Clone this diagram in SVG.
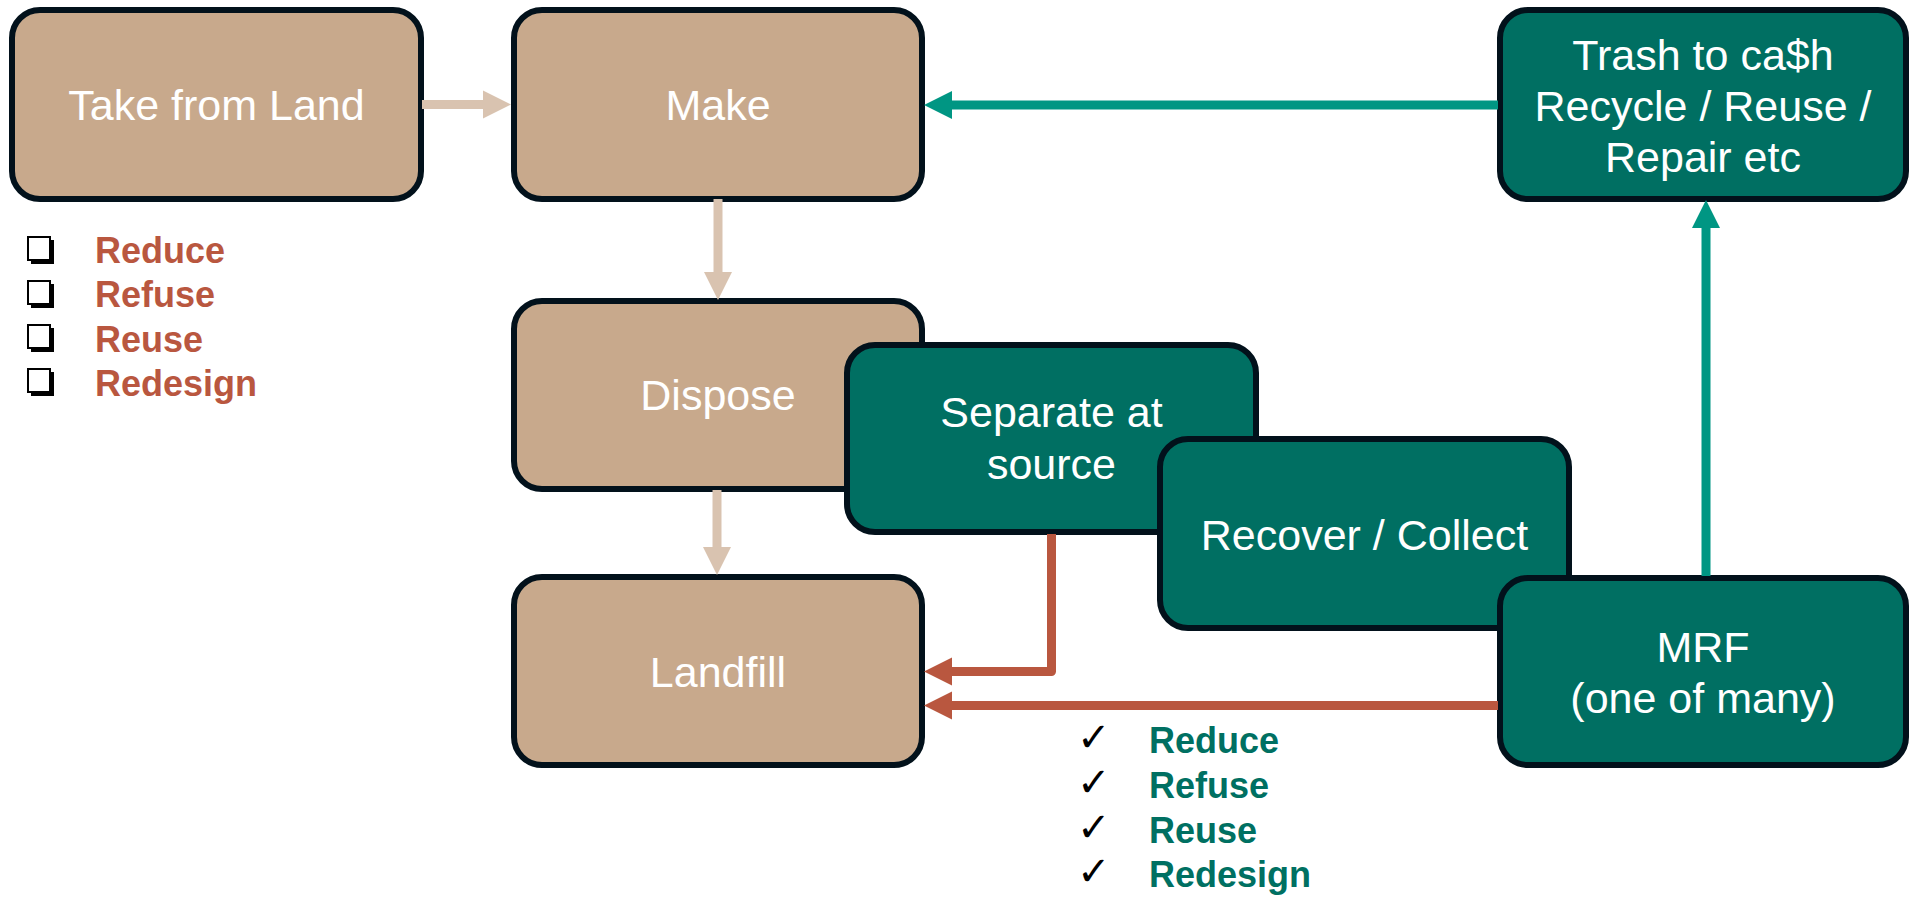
<svg xmlns="http://www.w3.org/2000/svg" width="1910" height="897" viewBox="0 0 1910 897">
  <style>
    .box { stroke: #02111b; stroke-width: 6; }
    .tan { fill: #c8a98c; }
    .teal { fill: #006f62; }
    .lbl { font-family: "Liberation Sans", Arial, sans-serif; font-size: 43px; fill: #ffffff; text-anchor: middle; }
    .item { font-family: "Liberation Sans", Arial, sans-serif; font-size: 36px; font-weight: bold; }
    .red-item { fill: #b9573f; }
    .teal-item { fill: #007062; }
    .tick { font-family: "DejaVu Sans", sans-serif; font-size: 40px; fill: #000000; }
    .c-tan { stroke: #d9c3b0; stroke-width: 9; fill: none; }
    .c-teal { stroke: #009683; stroke-width: 9; fill: none; }
    .c-red { stroke: #b9573f; stroke-width: 9; fill: none; stroke-linejoin: round; }
  </style>
  <defs>
    <marker id="head-tan" markerUnits="userSpaceOnUse" markerWidth="28" markerHeight="30" viewBox="0 0 28 30" refX="1" refY="15" orient="auto">
      <path d="M0,1 L28,15 L0,29 Z" fill="#d9c3b0"/>
    </marker>
    <marker id="head-teal" markerUnits="userSpaceOnUse" markerWidth="28" markerHeight="30" viewBox="0 0 28 30" refX="1" refY="15" orient="auto">
      <path d="M0,1 L28,15 L0,29 Z" fill="#009683"/>
    </marker>
    <marker id="head-red" markerUnits="userSpaceOnUse" markerWidth="28" markerHeight="30" viewBox="0 0 28 30" refX="1" refY="15" orient="auto">
      <path d="M0,1 L28,15 L0,29 Z" fill="#b9573f"/>
    </marker>
    <g id="checkbox">
      <rect x="3" y="3" width="23" height="24" fill="#000000"/>
      <rect x="0" y="0" width="22" height="23" fill="#ffffff" stroke="#000000" stroke-width="2"/>
    </g>
  </defs>

  <rect width="1910" height="897" fill="#ffffff"/>

  <!-- linear economy chain -->
  <g id="take">
    <rect class="box tan" x="12" y="10" width="409" height="189" rx="28"/>
    <text class="lbl" x="216.5" y="120">Take from Land</text>
  </g>
  <g id="make">
    <rect class="box tan" x="514" y="10" width="408" height="189" rx="28"/>
    <text class="lbl" x="718" y="120">Make</text>
  </g>
  <g id="trash-to-cash">
    <rect class="box teal" x="1500" y="10" width="406" height="189" rx="28"/>
    <text class="lbl" x="1703" y="70">Trash to ca$h</text>
    <text class="lbl" x="1703" y="121">Recycle / Reuse /</text>
    <text class="lbl" x="1703" y="172">Repair etc</text>
  </g>
  <g id="dispose">
    <rect class="box tan" x="514" y="301" width="408" height="188" rx="28"/>
    <text class="lbl" x="718" y="410">Dispose</text>
  </g>
  <g id="separate">
    <rect class="box teal" x="847" y="345" width="409" height="187" rx="28"/>
    <text class="lbl" x="1051.5" y="427">Separate at</text>
    <text class="lbl" x="1051.5" y="479">source</text>
  </g>
  <g id="recover">
    <rect class="box teal" x="1160" y="439" width="409" height="189" rx="28"/>
    <text class="lbl" x="1364.5" y="550">Recover / Collect</text>
  </g>
  <g id="landfill">
    <rect class="box tan" x="514" y="577" width="408" height="188" rx="28"/>
    <text class="lbl" x="718" y="687">Landfill</text>
  </g>
  <g id="mrf">
    <rect class="box teal" x="1500" y="578" width="406" height="187" rx="28"/>
    <text class="lbl" x="1703" y="662">MRF</text>
    <text class="lbl" x="1703" y="713">(one of many)</text>
  </g>

  <!-- flows between stages -->
  <g id="connectors">
    <line class="c-tan" x1="422" y1="104.5" x2="484" y2="104.5" marker-end="url(#head-tan)"/>
    <line class="c-tan" x1="718" y1="199" x2="718" y2="273" marker-end="url(#head-tan)"/>
    <line class="c-tan" x1="717" y1="490" x2="717" y2="548" marker-end="url(#head-tan)"/>
    <line class="c-teal" x1="1498" y1="105" x2="951" y2="105" marker-end="url(#head-teal)"/>
    <line class="c-teal" x1="1706" y1="576" x2="1706" y2="227" marker-end="url(#head-teal)"/>
    <polyline class="c-red" points="1051.5,534 1051.5,671.5 951,671.5" marker-end="url(#head-red)"/>
    <line class="c-red" x1="1498" y1="705.5" x2="951" y2="705.5" marker-end="url(#head-red)"/>
  </g>

  <!-- options before disposal -->
  <g id="list-left">
    <use href="#checkbox" x="28" y="237"/>
    <use href="#checkbox" x="28" y="281"/>
    <use href="#checkbox" x="28" y="325"/>
    <use href="#checkbox" x="28" y="369"/>
    <text class="item red-item" x="95" y="263">Reduce</text>
    <text class="item red-item" x="95" y="307">Refuse</text>
    <text class="item red-item" x="95" y="352">Reuse</text>
    <text class="item red-item" x="95" y="396">Redesign</text>
  </g>

  <!-- options after recovery -->
  <g id="list-right">
    <text class="tick" x="1077" y="751">✓</text>
    <text class="tick" x="1077" y="796">✓</text>
    <text class="tick" x="1077" y="841">✓</text>
    <text class="tick" x="1077" y="885">✓</text>
    <text class="item teal-item" x="1149" y="753">Reduce</text>
    <text class="item teal-item" x="1149" y="798">Refuse</text>
    <text class="item teal-item" x="1149" y="843">Reuse</text>
    <text class="item teal-item" x="1149" y="887">Redesign</text>
  </g>
</svg>
